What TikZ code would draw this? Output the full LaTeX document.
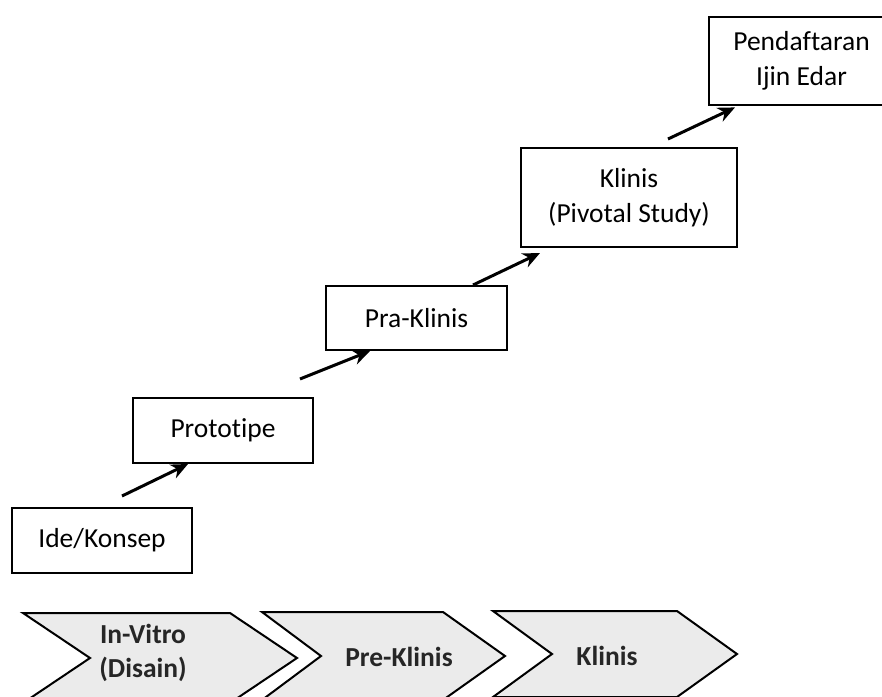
\documentclass[tikz,border=0pt]{standalone}
\usepackage{fontspec}
\setmainfont{Carlito}[Ligatures=CommonOff]
\usetikzlibrary{arrows.meta,calc}
\begin{document}
\begin{tikzpicture}[x=0.5pt,y=-0.5pt,
  stagebox/.style={draw=black,line width=1pt,fill=white,align=center,inner sep=0pt,
    font=\fontsize{13.75pt}{17.5pt}\selectfont},
  openbox/.style={align=center,inner sep=0pt,font=\fontsize{13.75pt}{17.5pt}\selectfont},
  stepflow/.style={line width=1.5pt,-{Stealth[length=8.5pt,width=7.5pt]}},
  chev/.style={draw=black,line width=1pt,fill=black!8,line join=miter},
  chevtext/.style={align=center,font=\bfseries\fontsize{13.75pt}{17pt}\selectfont,text=black!85}]
\useasboundingbox (0,0) rectangle (882,696);
\clip (0,0) rectangle (882,696);

% stage boxes
\node[stagebox,minimum width=90pt,minimum height=32.5pt] (ide) at (102,540.5) {Ide/Konsep};
\node[stagebox,minimum width=90pt,minimum height=32.5pt] (proto) at (223,430.5) {Prototipe};
\node[stagebox,minimum width=90.5pt,minimum height=32pt] (pra) at (416.5,318) {Pra-Klinis};
\node[stagebox,minimum width=108pt,minimum height=49.5pt] (klinis) at (629,197.5) {Klinis\\(Pivotal Study)};
\node[openbox,minimum width=92.5pt,minimum height=44pt] (pend) at (801.5,61) {Pendaftaran\\Ijin Edar};
\draw[line width=1pt] (pend.north east) -- (pend.north west) -- (pend.south west) -- (pend.south east);

% connectors
\draw[stepflow] ([xshift=10pt,yshift=5.5pt]ide.north) -- ([xshift=-17.5pt]proto.south);
\draw[stepflow] ([xshift=38.5pt,yshift=9pt]proto.north) -- ([xshift=-23.25pt]pra.south);
\draw[stepflow] ([xshift=28.25pt]pra.north) -- ([xshift=-44.5pt,yshift=-2.5pt]klinis.south);
\draw[stepflow] ([xshift=19.5pt,yshift=4pt]klinis.north) -- ([xshift=-33.25pt,yshift=-1pt]pend.south);

% phase chevrons
\draw[chev] (23,613) -- (230,613) -- (297,658) -- (230,703) -- (23,703) -- (90,658) -- cycle;
\draw[chev] (262,612) -- (443,612) -- (505,656) -- (443,700) -- (262,700) -- (321,656) -- cycle;
\draw[chev] (493,611) -- (677,611) -- (737,654) -- (677,697) -- (493,697) -- (552,654) -- cycle;

\node[chevtext] (invitro) at (143,653) {In-Vitro\\(Disain)};
\node[chevtext] (preklinis) at (399,657) {Pre-Klinis};
\node[chevtext] (klinisphase) at (607,656) {Klinis};
\end{tikzpicture}
\end{document}
